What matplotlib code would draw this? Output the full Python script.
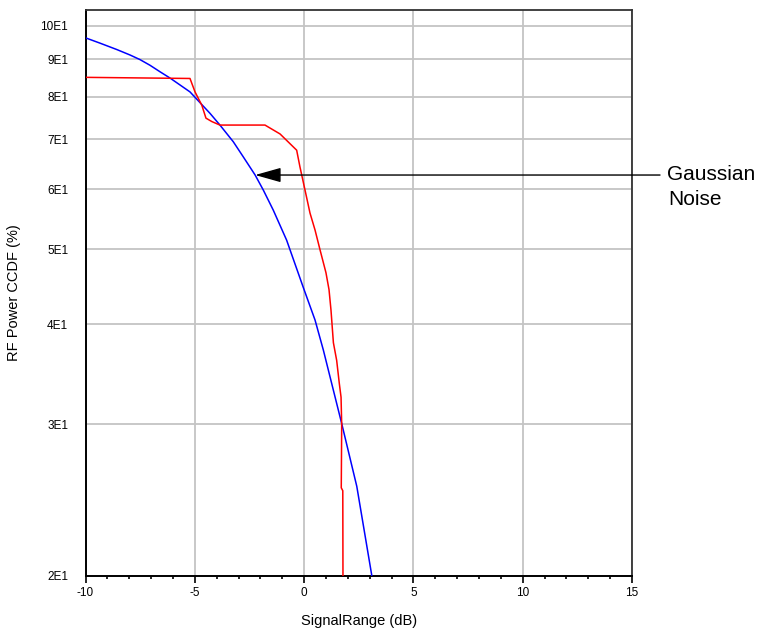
import numpy as np
import matplotlib
matplotlib.use("Agg")
import matplotlib.pyplot as plt
from matplotlib.ticker import FixedLocator, FixedFormatter, MultipleLocator

plt.rcParams['font.family'] = ['Liberation Sans', 'DejaVu Sans']

# ---- data ----
blue_x = [-10.0, -9.34, -8.57, -7.96, -7.51, -7.05, -6.59, -6.13, -5.68, -5.22,
          -4.76, -4.30, -3.85, -3.24, -2.78, -2.24, -1.87, -1.41, -0.80, -0.05,
          0.50, 0.88, 1.73, 2.41, 3.10]
blue_y = [96.3, 94.7, 92.8, 91.2, 89.9, 88.3, 86.5, 84.8, 83.0, 81.2,
          78.5, 75.9, 73.2, 69.5, 66.3, 62.7, 59.9, 56.3, 51.4, 44.7,
          40.5, 37.1, 30.0, 25.3, 20.0]

red_x = [-10.0, -5.22, -4.99, -4.68, -4.49, -4.22, -3.85, -1.79, -1.10, -0.34,
         -0.19, 0.04, 0.27, 0.50, 0.73, 1.00, 1.14, 1.23, 1.34, 1.49, 1.61, 1.69,
         1.72, 1.70, 1.77, 1.78]
red_y = [85.0, 84.7, 81.2, 77.9, 74.8, 74.0, 73.2, 73.2, 71.2, 67.7,
         64.3, 59.9, 55.8, 53.0, 49.9, 46.6, 44.3, 41.7, 37.9, 36.0, 33.7, 32.4,
         30.0, 25.2, 25.0, 19.0]

y_ticks = [20, 30, 40, 50, 60, 70, 80, 90, 100]
y_tick_labels = ["2E1", "3E1", "4E1", "5E1", "6E1", "7E1", "8E1", "9E1", "10E1"]
x_ticks = [-10, -5, 0, 5, 10, 15]
x_tick_labels = ["-10", "-5", "0", "5", "10", "15"]

arrow_tip = (-2.24, 62.7)
annot_lines = ["Gaussian", "Noise"]

# ---- axis scale (offset log, as in the reference) ----
C = 4.8
def fwd(y):
    y = np.asarray(y, dtype=float)
    return np.log10(np.clip(y - C, 1e-9, None))
def inv(v):
    return 10.0 ** np.asarray(v, dtype=float) + C

W, H = 764, 631
fig = plt.figure(figsize=(W / 100, H / 100), dpi=100)
ax = fig.add_axes([85.5 / W, (H - 576) / H, (632 - 85.5) / W, (576 - 10) / H])

ax.set_yscale('function', functions=(fwd, inv))
ax.set_xlim(-10, 15)
ax.set_ylim(20, 105.2)

ax.plot(blue_x, blue_y, color='#0000ff', lw=1.1, zorder=3)
ax.plot(red_x, red_y, color='#ff0000', lw=1.1, zorder=3)

# ticks
ax.xaxis.set_major_locator(FixedLocator(x_ticks))
ax.xaxis.set_major_formatter(FixedFormatter(x_tick_labels))
ax.xaxis.set_minor_locator(MultipleLocator(1))
ax.yaxis.set_major_locator(FixedLocator(y_ticks))
ax.yaxis.set_major_formatter(FixedFormatter(y_tick_labels))
ax.yaxis.set_minor_locator(FixedLocator([y_ticks[0]]))

ax.tick_params(axis='x', which='major', direction='out', length=5, width=1.2,
               labelsize=8.5, pad=3, color='black')
ax.tick_params(axis='x', which='minor', direction='out', length=2.5, width=1.2,
               color='black')
ax.tick_params(axis='y', which='major', length=0, labelsize=8.5, pad=12.5)
ax.tick_params(axis='y', which='minor', direction='out', length=8, width=1.2,
               color='black')

ax.grid(True, which='major', color='#c4c4c4', lw=1.3, zorder=0)

for side in ['left', 'bottom']:
    ax.spines[side].set_color('black')
    ax.spines[side].set_linewidth(1.4)
for side in ['top', 'right']:
    ax.spines[side].set_color('#333333')
    ax.spines[side].set_linewidth(1.3)

ax.set_xlabel("SignalRange (dB)", fontsize=10.5)
ax.xaxis.set_label_coords(0.5, -0.068)
ax.set_ylabel("RF Power CCDF (%)", fontsize=10.5)
ax.yaxis.set_label_coords(-0.118, 0.5)

# annotation arrow
ax.annotate('', xy=arrow_tip, xycoords='data',
            xytext=(660 / W, arrow_tip[1]), textcoords=('figure fraction', 'data'),
            arrowprops=dict(arrowstyle='-|>,head_length=1.6,head_width=0.45',
                            mutation_scale=10, color='black', lw=1.0,
                            shrinkA=0, shrinkB=0),
            annotation_clip=False, zorder=5)

fig.text(667 / W, 1 - 180 / H, annot_lines[0], fontsize=15, va='baseline', ha='left')
fig.text(668 / W, 1 - 205 / H, annot_lines[1], fontsize=15, va='baseline', ha='left')

fig.savefig("out.png", dpi=100)
